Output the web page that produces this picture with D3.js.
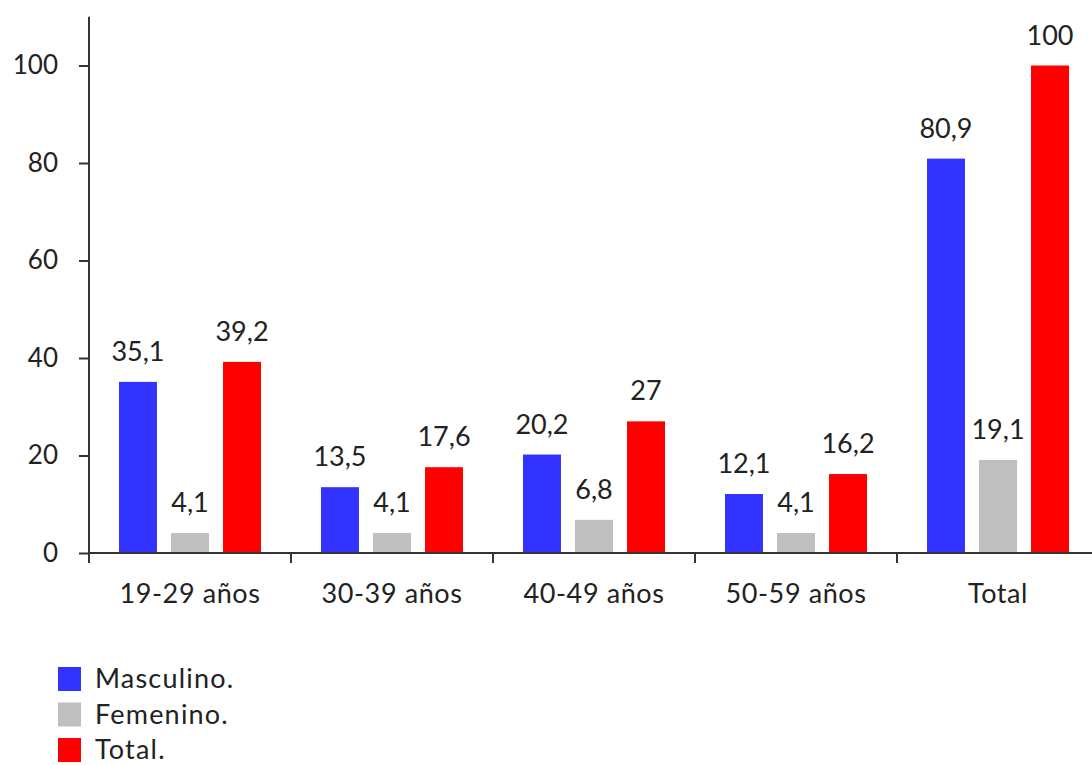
<!DOCTYPE html>
<html>
<head>
<meta charset="utf-8">
<script src="https://cdn.jsdelivr.net/npm/d3@7"></script>
<style>
  body { margin: 0; background: #fff; }
  svg { display: block; font-family: Lato, "Open Sans", sans-serif; }
  text { fill: #222; }
</style>
</head>
<body>
<div id="chart"></div>
<script>
// DATA
var categories = ['19-29 años', '30-39 años', '40-49 años', '50-59 años', 'Total'];
var seriesNames = ['Masculino.', 'Femenino.', 'Total.'];
var masculino = [35.1, 13.5, 20.2, 12.1, 80.9];
var femenino = [4.1, 4.1, 6.8, 4.1, 19.1];
var total = [39.2, 17.6, 27, 16.2, 100];
var yTicks = [0, 20, 40, 60, 80, 100];
var colors = ['#3333ff', '#bfbfbf', '#ff0000'];

var series = [masculino, femenino, total];

// SIZES
var width = 1092;
var height = 765;
var axisX = 89;
var axisY = 553;

var svg = d3.select('#chart')
  .append('svg')
  .attr('width', width)
  .attr('height', height);

// SCALES
var x0 = d3.scaleBand()
  .domain(categories)
  .range([axisX, axisX + 5 * 202])
  .padding(0);

var x1 = d3.scaleBand()
  .domain(d3.range(seriesNames.length))
  .range([30, 172])
  .paddingInner(0.27)
  .paddingOuter(0);

var y = d3.scaleLinear()
  .domain([0, 110])
  .range([axisY, axisY - 110 * 4.875]);

// BARS
var groups = svg.selectAll('.group')
  .data(categories)
  .enter()
  .append('g')
  .attr('class', 'group')
  .attr('transform', function(d) { return 'translate(' + x0(d) + ',0)'; });

groups.selectAll('rect')
  .data(function(d, i) {
    return series.map(function(s, k) { return {k: k, v: s[i]}; });
  })
  .enter()
  .append('rect')
  .attr('x', function(d) { return x1(d.k); })
  .attr('width', x1.bandwidth())
  .attr('y', function(d) { return y(d.v); })
  .attr('height', function(d) { return y(0) - y(d.v); })
  .attr('fill', function(d) { return colors[d.k]; });

// VALUE LABELS
groups.selectAll('.val')
  .data(function(d, i) {
    return series.map(function(s, k) { return {k: k, v: s[i]}; });
  })
  .enter()
  .append('text')
  .attr('class', 'val')
  .attr('x', function(d) { return x1(d.k) + x1.bandwidth() / 2; })
  .attr('y', function(d) { return y(d.v) - 21; })
  .attr('text-anchor', 'middle')
  .style('font-size', '27px')
  .text(function(d) { return String(d.v).replace('.', ','); });

// Y AXIS
var yAxis = svg.append('g')
  .attr('transform', 'translate(' + axisX + ',0)')
  .call(d3.axisLeft(y).tickValues(yTicks).tickSize(10).tickPadding(21).tickFormat(d3.format('d')));
yAxis.select('.domain').attr('d', 'M0,' + y(110) + 'V' + (axisY + 10));
yAxis.selectAll('line, path').attr('stroke', '#333').attr('stroke-width', 2);
yAxis.selectAll('text').style('font-size', '26px').style('font-family', 'Lato, sans-serif').attr('fill', '#222');

// X AXIS
var xAxis = svg.append('g')
  .attr('transform', 'translate(0,' + axisY + ')')
  .call(d3.axisBottom(x0).tickSize(0).tickPadding(31));
xAxis.select('.domain').attr('d', 'M' + axisX + ',0H' + width).attr('stroke', '#333').attr('stroke-width', 2);
xAxis.selectAll('text')
  .style('font-size', '27px')
  .style('letter-spacing', '0.6px')
  .style('font-family', 'Lato, sans-serif')
  .attr('fill', '#222');

// ticks between categories
svg.selectAll('.sep')
  .data(categories.slice(1))
  .enter()
  .append('line')
  .attr('x1', function(d) { return x0(d); })
  .attr('x2', function(d) { return x0(d); })
  .attr('y1', axisY)
  .attr('y2', axisY + 10)
  .attr('stroke', '#333')
  .attr('stroke-width', 2);

// LEGEND
var legend = svg.selectAll('.legend')
  .data(seriesNames)
  .enter()
  .append('g')
  .attr('class', 'legend')
  .attr('transform', function(d, i) { return 'translate(58,' + (667 + i * 35.5) + ')'; });

legend.append('rect')
  .attr('width', 23)
  .attr('height', 24)
  .attr('fill', function(d, i) { return colors[i]; });

legend.append('text')
  .attr('x', 37)
  .attr('y', 12)
  .attr('dy', '0.34em')
  .style('font-size', '27px')
  .style('letter-spacing', '1.2px')
  .text(function(d) { return d; });
</script>
</body>
</html>
